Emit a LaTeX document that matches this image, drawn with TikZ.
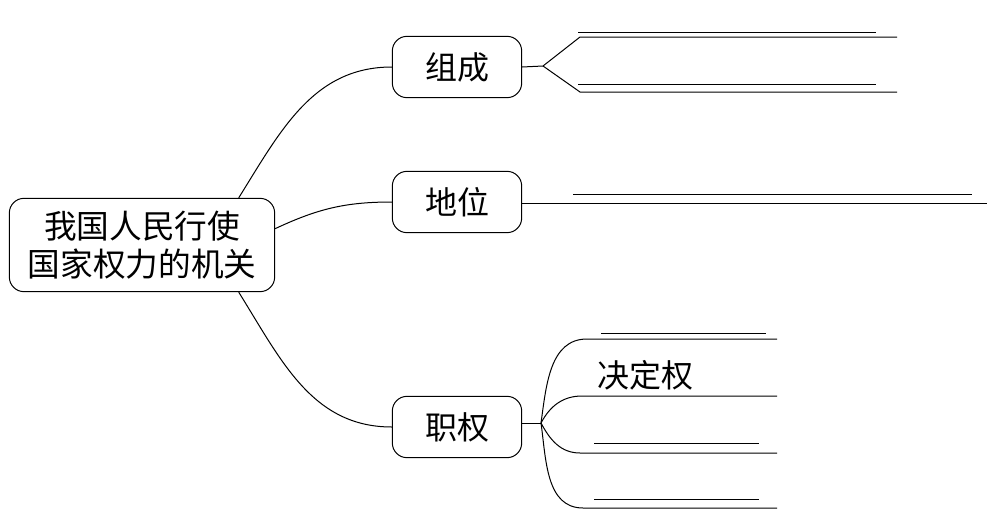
\documentclass[tikz,border=0pt]{standalone}
\usepackage{fontspec}
\usepackage{tikz}
\newfontfamily\cjk{Noto Sans CJK SC}

\begin{document}
\begin{tikzpicture}[x=0.75pt,y=0.75pt,line width=0.75pt,
    box/.style={draw,rounded corners=11pt,font=\cjk\fontsize{24}{28}\selectfont,
        minimum width=97pt,minimum height=46pt,inner sep=0pt},
    mainbox/.style={box,minimum width=199pt,minimum height=70pt,align=center,
        font=\cjk\fontsize{24.5}{29}\selectfont}]
    \useasboundingbox (0,0) rectangle (998,512);

    % 绘制节点
    \node[mainbox] (main) at (142,267) {我国人民行使\\国家权力的机关};
    \node[box] (comp) at (457,445) {组成};
    \node[box] (pos) at (457,310) {地位};
    \node[box] (power) at (457,85) {职权};

    % 主节点到分支
    \draw (main.26) to[out=58,in=180] (comp.west);
    \draw (main.7) to[out=25,in=180] (pos.west);
    \draw (main.-26) to[out=-58,in=180] (power.west);

    % 组成
    \coordinate (cf) at (543,446);
    \coordinate (c1) at (580,475);
    \coordinate (c2) at (580,420);
    \draw (comp.east) -- (cf) -- (c1) -- (897,475);
    \draw (cf) -- (c2) -- (897,420);
    \draw (578,480) -- (876,480);
    \draw (578,428) -- (876,428);

    % 地位
    \coordinate (pe) at (987,309);
    \draw (pos.east |- pe) -- (pe);
    \draw (573,318) -- (972,318);

    % 职权
    \coordinate (wf) at (541,89);
    \draw (power.east |- wf) -- (wf);
    \draw (wf) to[out=82,in=180] (587,173) -- (777,173);
    \draw (wf) to[out=62,in=180] (582,116) -- (777,116);
    \draw (wf) to[out=-62,in=180] (580,59) -- (777,59);
    \draw (wf) to[out=-82,in=180] (583,4) -- (777,4);
    \draw (601,179) -- (766,179);
    \draw (594,69) -- (759,69);
    \draw (594,13) -- (759,13);
    \node[font=\cjk\fontsize{24}{28}\selectfont] (dec) at (645,137) {决定权};

\end{tikzpicture}
\end{document}
